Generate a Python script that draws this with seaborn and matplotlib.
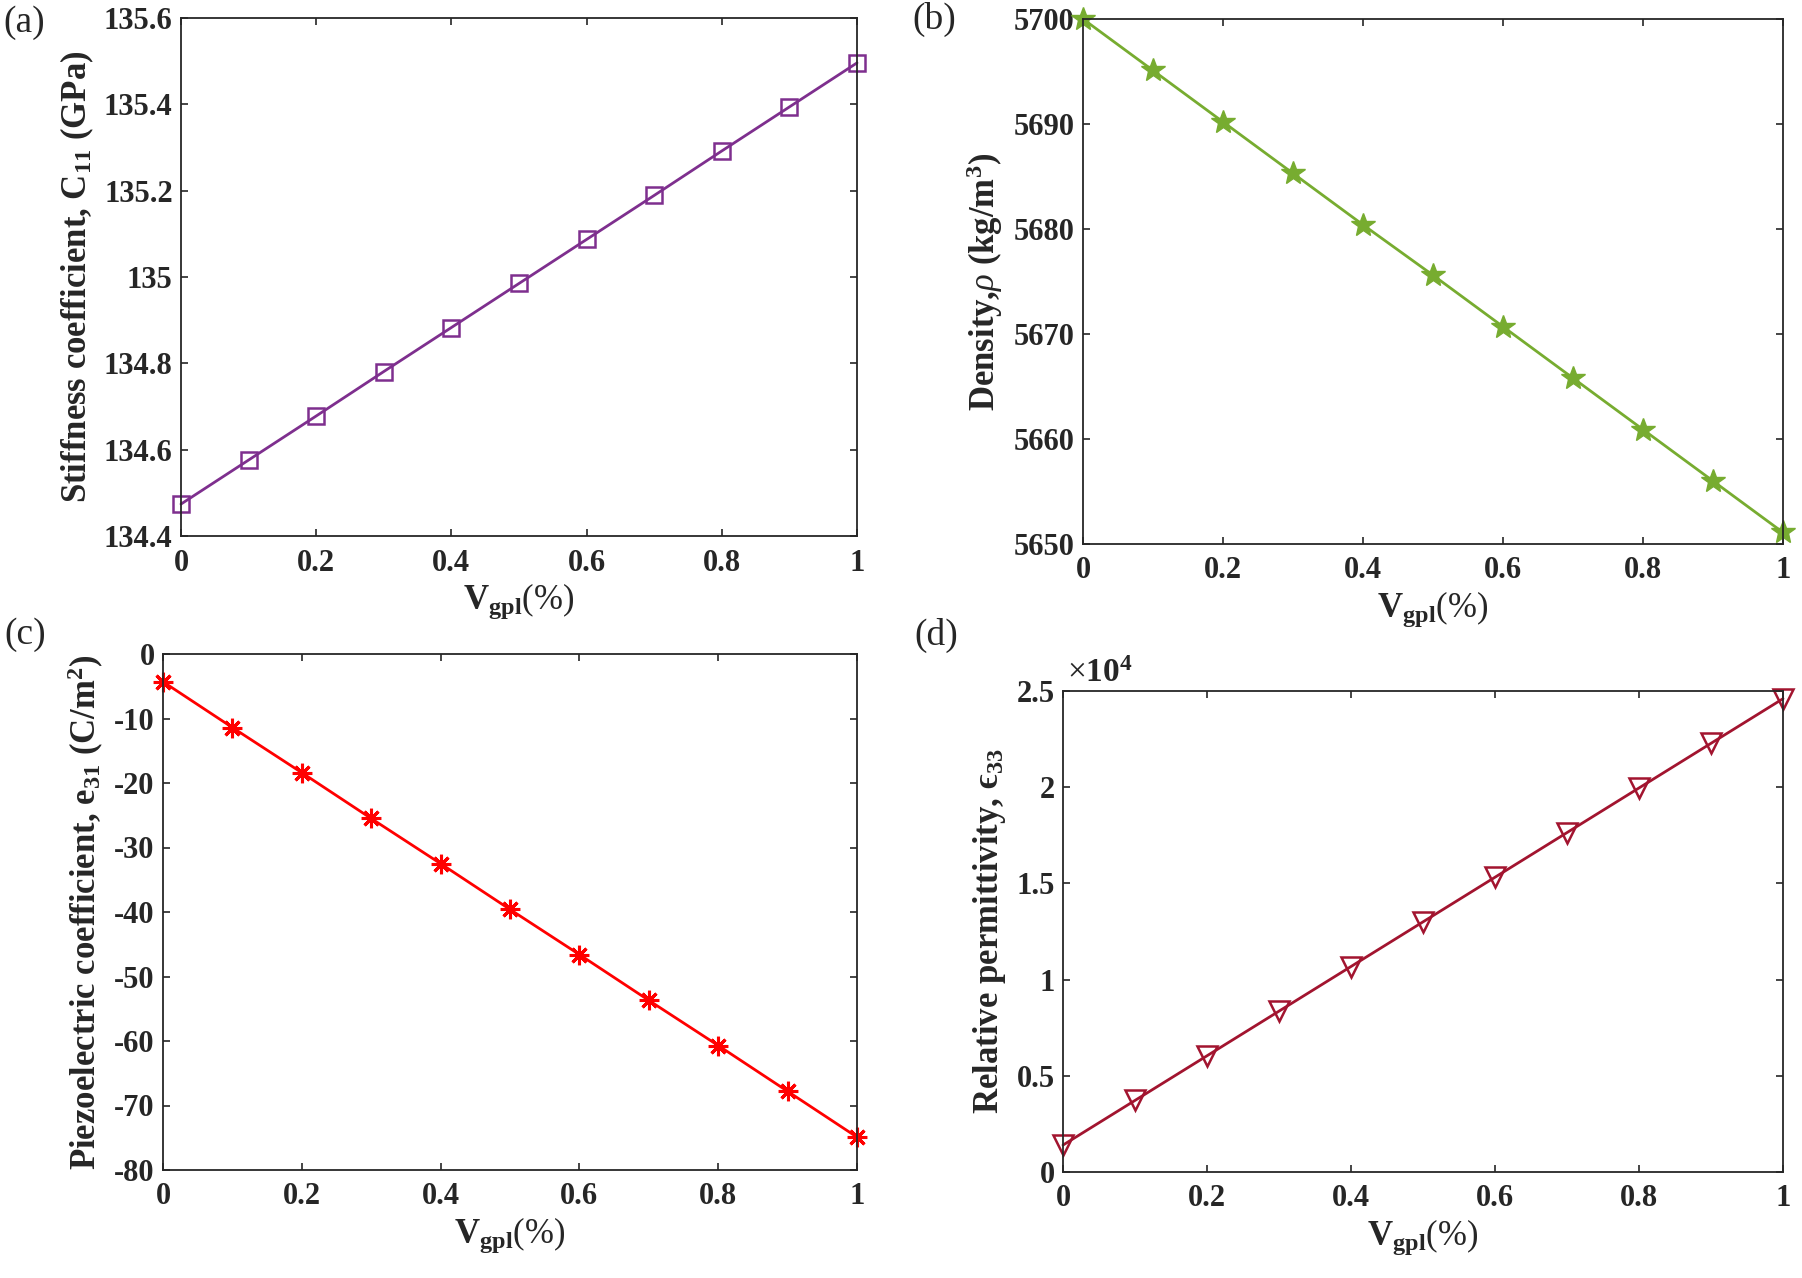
import numpy as np
import pandas as pd
import seaborn as sns
import matplotlib
matplotlib.use('Agg')
import matplotlib.pyplot as plt
from matplotlib.ticker import FuncFormatter

# volume fraction of GPL (%)
vgpl = [0, 0.1, 0.2, 0.3, 0.4, 0.5, 0.6, 0.7, 0.8, 0.9, 1.0]

# values
c11 = [134.474, 134.576, 134.678, 134.781, 134.883, 134.985,
       135.087, 135.189, 135.292, 135.394, 135.496]
rho = [5700.0, 5695.1, 5690.2, 5685.3, 5680.4, 5675.6,
       5670.7, 5665.8, 5660.9, 5656.0, 5651.1]
e31 = [-4.3, -11.4, -18.4, -25.5, -32.5, -39.6,
       -46.6, -53.7, -60.7, -67.8, -74.9]
eps33 = [1400, 3720, 6040, 8360, 10680, 13000,
         15320, 17640, 19960, 22280, 24600]

xticks = [0, 0.2, 0.4, 0.6, 0.8, 1]

sns.set_style('ticks')
plt.rcParams['font.family'] = ['Liberation Serif', 'DejaVu Serif']
plt.rcParams['mathtext.fontset'] = 'custom'
plt.rcParams['mathtext.rm'] = 'Liberation Serif'
plt.rcParams['mathtext.it'] = 'Liberation Serif:italic'
plt.rcParams['mathtext.bf'] = 'Liberation Serif:bold'

fig = plt.figure(figsize=(18.02, 12.78), dpi=100)

W, H = 1802.0, 1278.0
def box(l, r, t, b):
    return [l / W, 1 - b / H, (r - l) / W, (b - t) / H]

ax_a = fig.add_axes(box(181, 857, 18, 536))
ax_b = fig.add_axes(box(1083, 1783, 19, 544))
ax_c = fig.add_axes(box(163, 857, 654, 1170))
ax_d = fig.add_axes(box(1063, 1783, 691, 1172))

xlab = r'$\mathbf{V}_{\mathbf{gpl}}$(%)'
fmt = FuncFormatter(lambda v, p: f'{v:g}')

def style(ax, ylim, yticks, ylabel, yfmt=fmt):
    ax.set_xlim(0, 1)
    ax.set_ylim(*ylim)
    ax.set_xticks(xticks)
    ax.set_yticks(yticks)
    ax.xaxis.set_major_formatter(fmt)
    ax.yaxis.set_major_formatter(yfmt)
    ax.tick_params(direction='in', top=True, right=True, length=5,
                   width=1.2, labelsize=22)
    ax.tick_params(axis='x', pad=9)
    ax.tick_params(axis='y', pad=6)
    for lab in ax.get_xticklabels() + ax.get_yticklabels():
        lab.set_fontweight('bold')
    for s in ax.spines.values():
        s.set_linewidth(1.3)
        s.set_color('#262626')
    ax.set_xlabel(xlab, fontsize=25, labelpad=3)
    ax.set_ylabel(ylabel, fontsize=25, fontweight='bold', labelpad=6)
    for ln in ax.lines:
        ln.set_clip_on(False)

# (a) stiffness
sns.lineplot(x=vgpl, y=c11, ax=ax_a, color='#7E2F8E', linewidth=2,
             marker='s', markersize=11, markerfacecolor='none',
             markeredgecolor='#7E2F8E', markeredgewidth=1.8)
style(ax_a, (134.4, 135.6), [134.4, 134.6, 134.8, 135.0, 135.2, 135.4, 135.6],
      r'Stiffness coefficient, C$_{\mathbf{11}}$ (GPa)')

# (b) density
sns.lineplot(x=vgpl, y=rho, ax=ax_b, color='#77AC30', linewidth=2,
             marker='*', markersize=18, markerfacecolor='#77AC30',
             markeredgecolor='#77AC30', markeredgewidth=1)
style(ax_b, (5650, 5700), [5650, 5660, 5670, 5680, 5690, 5700],
      r'Density,$\rho$ (kg/m$^{\mathbf{3}}$)')

# (c) piezoelectric coefficient
sns.lineplot(x=vgpl, y=e31, ax=ax_c, color='#FF0000', linewidth=2,
             marker=(8, 2, 0), markersize=14,
             markeredgecolor='#FF0000', markeredgewidth=2.2)
style(ax_c, (-80, 0), [-80, -70, -60, -50, -40, -30, -20, -10, 0],
      r'Piezoelectric coefficient, e$_{\mathbf{31}}$ (C/m$^{\mathbf{2}}$)')

# (d) relative permittivity
sns.lineplot(x=vgpl, y=eps33, ax=ax_d, color='#A2142F', linewidth=2,
             marker='v', markersize=14, markerfacecolor='none',
             markeredgecolor='#A2142F', markeredgewidth=1.8)
style(ax_d, (0, 25000), [0, 5000, 10000, 15000, 20000, 25000],
      'Relative permittivity, \u03f5$_{\\mathbf{33}}$',
      yfmt=FuncFormatter(lambda v, p: f'{v / 1e4:g}'))
ax_d.text(0.005, 1.004, r'$\times$$\mathbf{10^{4}}$', transform=ax_d.transAxes,
          fontsize=24, ha='left', va='bottom')

# panel labels
for txt, x, y in [('(a)', 3, 5), ('(b)', 912, 2), ('(c)', 4, 617), ('(d)', 914, 618)]:
    fig.text(x / W, 1 - y / H, txt, fontsize=27, ha='left', va='top')

fig.savefig('out.png', dpi=100)
